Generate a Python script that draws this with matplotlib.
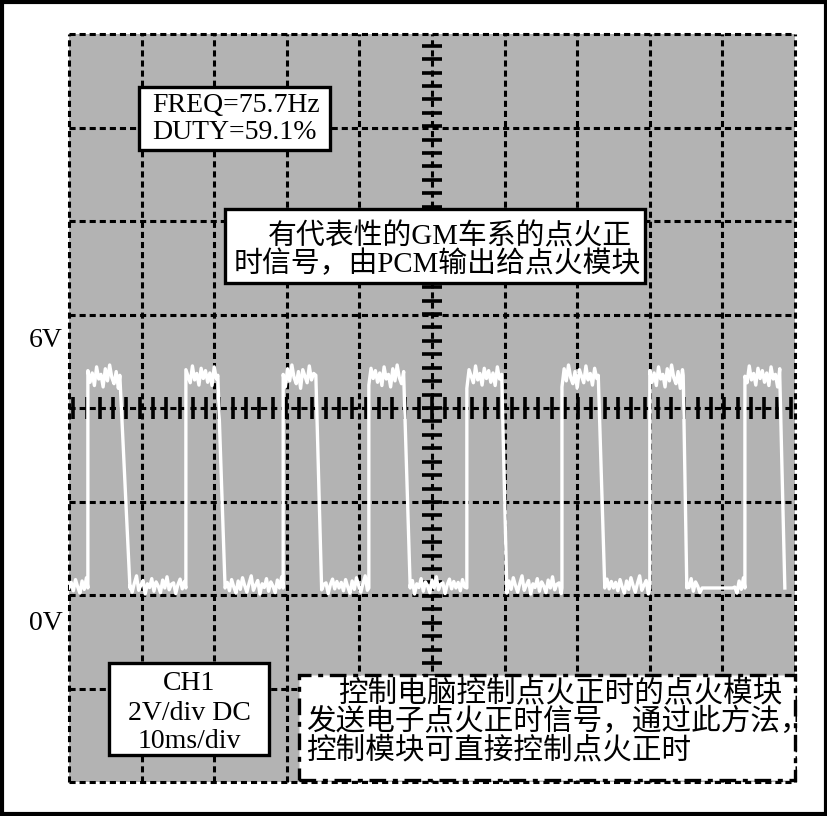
import numpy as np
import matplotlib
matplotlib.use("Agg")
import matplotlib.pyplot as plt
from matplotlib.patches import Rectangle

plt.rcParams['font.family'] = ['Liberation Serif', 'Noto Sans CJK SC']

# scope settings: 10 ms/div, 2 V/div, 10 x 8 divisions
t_range = (0, 100)
v_range = (-4, 12)

# pulse edges (ms)
rise_ms = [2.6, 16.1, 29.5, 41.3, 54.8, 67.9, 80.0, 93.1]
fall_top_ms = [7.0, 20.5, 34.0, 46.1, 59.6, 72.9, 84.6, 97.9]
fall_low_ms = [8.4, 21.5, 34.8, 47.0, 60.3, 73.8, 85.1, 98.6]
high_v = 4.70
low_v = 0.15
quiet_ms = (87.0, 91.5)   # flat piece of the last low stretch

# hand-read ripple on the flat parts (V)
low_jitter = [0.00, 0.12, -0.06, 0.18, 0.02, -0.11, 0.15, -0.03, 0.22, 0.05,
              -0.09, 0.10, 0.26, -0.05, 0.06, 0.16, -0.13, 0.09, 0.01, 0.20,
              -0.07, 0.13, 0.04, -0.10, 0.17, 0.00, 0.24, -0.04, 0.08, 0.11,
              -0.12, 0.07, 0.19, -0.02, 0.14]
high_jitter = [0.10, -0.15, 0.05, -0.22, 0.18, -0.08, 0.02, -0.25, 0.14, -0.12,
               0.22, -0.05, -0.18, 0.08, -0.28, 0.12, -0.02, -0.16, 0.20, -0.10,
               0.04, -0.21, 0.15, -0.07]

info_text = "FREQ=75.7Hz\nDUTY=59.1%"
ch_text = ["CH1", "2V/div DC", "10ms/div"]
title_lines = ["有代表性的GM车系的点火正", "时信号，由PCM输出给点火模块"]
note_lines = ["控制电脑控制点火正时的点火模块",
              "发送电子点火正时信号，通过此方法，",
              "控制模块可直接控制点火正时"]

# build trace
t, v = [], []
count = {'low': 0, 'high': 0}
def flat(a, b, level, table, key):
    for s in np.arange(a, b, 0.3):
        if quiet_ms[0] < s < quiet_ms[1]:
            j = 0.0
        else:
            j = table[count[key] % len(table)]
        count[key] += 1
        t.append(s)
        v.append(level + j)

prev = 0.0
for r, ft, fl in zip(rise_ms, fall_top_ms, fall_low_ms):
    flat(prev, r, low_v, low_jitter, 'low')
    t.append(r); v.append(low_v)
    flat(r, ft, high_v, high_jitter, 'high')
    t.append(ft); v.append(high_v)
    t.append(fl); v.append(low_v)
    prev = fl

fig = plt.figure(figsize=(8.28, 8.16), dpi=100)
ax = fig.add_axes([69/828, 34/816, 726/828, 748/816])
ax.set_facecolor('#b3b3b3')
ax.set_xlim(*t_range)
ax.set_ylim(*v_range)
for s in ax.spines.values():
    s.set_visible(False)
ax.set_xticks([])
ax.set_yticks([])

# dashed graticule
for x in np.arange(0, 101, 10):
    ax.axvline(x, color='black', lw=2.2, dashes=(2.0, 1.3), zorder=1, clip_on=False)
for y in np.arange(-4, 13, 2):
    ax.axhline(y, color='black', lw=2.2, dashes=(2.0, 1.3), zorder=1, clip_on=False)

# centre axes ticks
hx = np.arange(50 - 27 * 1.83, 100.01, 1.83)
hx = hx[(hx > 0.5) & (hx < 99.5)]
ax.vlines(hx, 4 - 0.24, 4 + 0.24, color='black', lw=2.6, zorder=2)
vy = np.arange(4 - 28 * 0.287, 12.01, 0.287)
vy = vy[(vy > -3.9) & (vy < 11.9)]
ax.hlines(vy, 50 - 1.35, 50 + 1.35, color='black', lw=2.6, zorder=2)

# trace
ax.plot(t, v, color='white', lw=2.4, zorder=3)

def fx(px):
    return (px - 69) / 726
def fy(py):
    return (782 - py) / 748

tr = ax.transAxes

def box(x0, y0, x1, y1, ls='-'):
    ax.add_patch(Rectangle((fx(x0), fy(y1)), fx(x1) - fx(x0), fy(y0) - fy(y1),
                           transform=tr, facecolor='white', edgecolor='black',
                           lw=2.4, linestyle=ls, zorder=4, clip_on=False))

box(139, 87, 330, 150)
ax.text(fx(152), fy(119), info_text, transform=tr, fontsize=20, va='center',
        ha='left', linespacing=1.1, zorder=5)

box(225, 209, 645, 283)
ax.text(fx(268), fy(237), title_lines[0], transform=tr, fontsize=20.8,
        va='center', ha='left', zorder=5)
ax.text(fx(234), fy(264), title_lines[1], transform=tr, fontsize=20.8,
        va='center', ha='left', zorder=5)

box(109, 663, 269, 755)
for line, py in zip(ch_text, [683, 713, 742]):
    ax.text(fx(189), fy(py), line, transform=tr, fontsize=20, va='center',
            ha='center', zorder=5)

box(299, 675, 795, 780, ls=(0, (5, 2, 1.5, 2)))
for line, px, py in zip(note_lines, [338, 306, 306], [693, 722, 750]):
    ax.text(fx(px), fy(py), line, transform=tr, fontsize=21.3, va='center',
            ha='left', zorder=5)

ax.text(fx(63), fy(340), "6V", transform=tr, fontsize=20, ha='right', va='center')
ax.text(fx(63), fy(624), "0V", transform=tr, fontsize=20, ha='right', va='center')

fig.patches.append(Rectangle((0.002, 0.002), 0.996, 0.996, transform=fig.transFigure,
                             fill=False, edgecolor='black', lw=3))

fig.savefig('out.png', dpi=100, facecolor='white')
